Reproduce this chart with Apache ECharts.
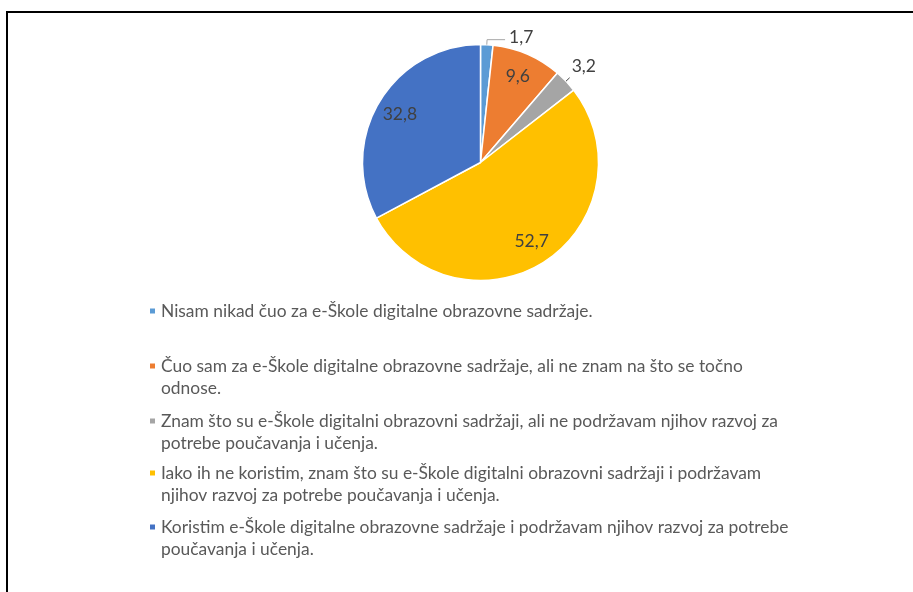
<!DOCTYPE html>
<html><head><meta charset="utf-8">
<script src="https://cdn.jsdelivr.net/npm/echarts@6/dist/echarts.min.js"></script>
<style>html,body{margin:0;padding:0;background:#fff}#c{width:913px;height:592px}</style>
</head><body><div id="c"></div>
<script>
const categories = [
  'Nisam nikad čuo za e-Škole digitalne obrazovne sadržaje.',
  'Čuo sam za e-Škole digitalne obrazovne sadržaje, ali ne znam na što se točno odnose.',
  'Znam što su e-Škole digitalni obrazovni sadržaji, ali ne podržavam njihov razvoj za potrebe poučavanja i učenja.',
  'Iako ih ne koristim, znam što su e-Škole digitalni obrazovni sadržaji i podržavam njihov razvoj za potrebe poučavanja i učenja.',
  'Koristim e-Škole digitalne obrazovne sadržaje i podržavam njihov razvoj za potrebe poučavanja i učenja.'
];
const legendLines = [
  ['Nisam nikad čuo za e-Škole digitalne obrazovne sadržaje.'],
  ['Čuo sam za e-Škole digitalne obrazovne sadržaje, ali ne znam na što se točno', 'odnose.'],
  ['Znam što su e-Škole digitalni obrazovni sadržaji, ali ne podržavam njihov razvoj za', 'potrebe poučavanja i učenja.'],
  ['Iako ih ne koristim, znam što su e-Škole digitalni obrazovni sadržaji i podržavam', 'njihov razvoj za potrebe poučavanja i učenja.'],
  ['Koristim e-Škole digitalne obrazovne sadržaje i podržavam njihov razvoj za potrebe', 'poučavanja i učenja.']
];
const values = [1.7, 9.6, 3.2, 52.7, 32.8];
const colors = ['#5B9BD5', '#ED7D31', '#A5A5A5', '#FFC000', '#4472C4'];

const FONT = 'Lato';
const LH = 22.5;
const legendFirstLine = [311, 366, 421, 473, 527];
const center = [480.5, 162.5];
const R = 118;

const fmtVal = p => String(p.value).replace('.', ',');

const outsideCfg = {
  0: {label: {position: 'outside', distanceToLabelLine: 4, lineHeight: 4, formatter: p => fmtVal(p) + '\n'},
      labelLine: {length: 5, length2: 18, lineStyle: {color: '#A6A6A6'}}},
  2: {label: {position: 'outside', distanceToLabelLine: 2, lineHeight: 23, formatter: p => fmtVal(p) + '\n'},
      labelLine: {length: 5, length2: 0, lineStyle: {color: '#404040'}}}
};

const chart = echarts.init(document.getElementById('c'), null, {renderer: 'canvas'});
chart.setOption({
  animation: false,
  color: colors,
  graphic: [{
    type: 'polyline', silent: true,
    shape: {points: [[7, 600], [7, 12], [920, 12]]},
    style: {stroke: '#000', lineWidth: 2, fill: null}
  }],
  legend: categories.map((name, i) => {
    const lines = legendLines[i];
    const multi = lines.length > 1;
    return {
      data: [name],
      orient: 'vertical',
      left: 148,
      top: legendFirstLine[i] - (multi ? 1.5 * LH : 0.5 * LH),
      padding: 0,
      itemWidth: 7, itemHeight: 7,
      icon: 'rect',
      selectedMode: false,
      textStyle: {color: '#595959', fontSize: 17.4, fontFamily: FONT, lineHeight: LH},
      formatter: () => multi ? '\n' + lines.join('\n') : lines[0]
    };
  }),
  series: [{
    type: 'pie',
    center: center,
    radius: [0, R],
    startAngle: 90,
    clockwise: true,
    silent: true,
    label: {show: false},
    labelLine: {show: false},
    itemStyle: {borderColor: '#fff', borderWidth: 1.5},
    data: values.map((v, i) => ({name: categories[i], value: v, itemStyle: {color: colors[i]}}))
  }, {
    type: 'pie',
    center: center,
    radius: [64, R],
    startAngle: 90,
    clockwise: true,
    silent: true,
    avoidLabelOverlap: false,
    z: 3,
    itemStyle: {color: 'rgba(0,0,0,0)'},
    label: {show: true, position: 'inside', color: '#404040', fontSize: 17.5, fontFamily: FONT, formatter: fmtVal},
    labelLine: {show: true, lineStyle: {width: 1}},
    data: values.map((v, i) => Object.assign({name: categories[i], value: v}, outsideCfg[i] || {}))
  }]
});
</script></body></html>
